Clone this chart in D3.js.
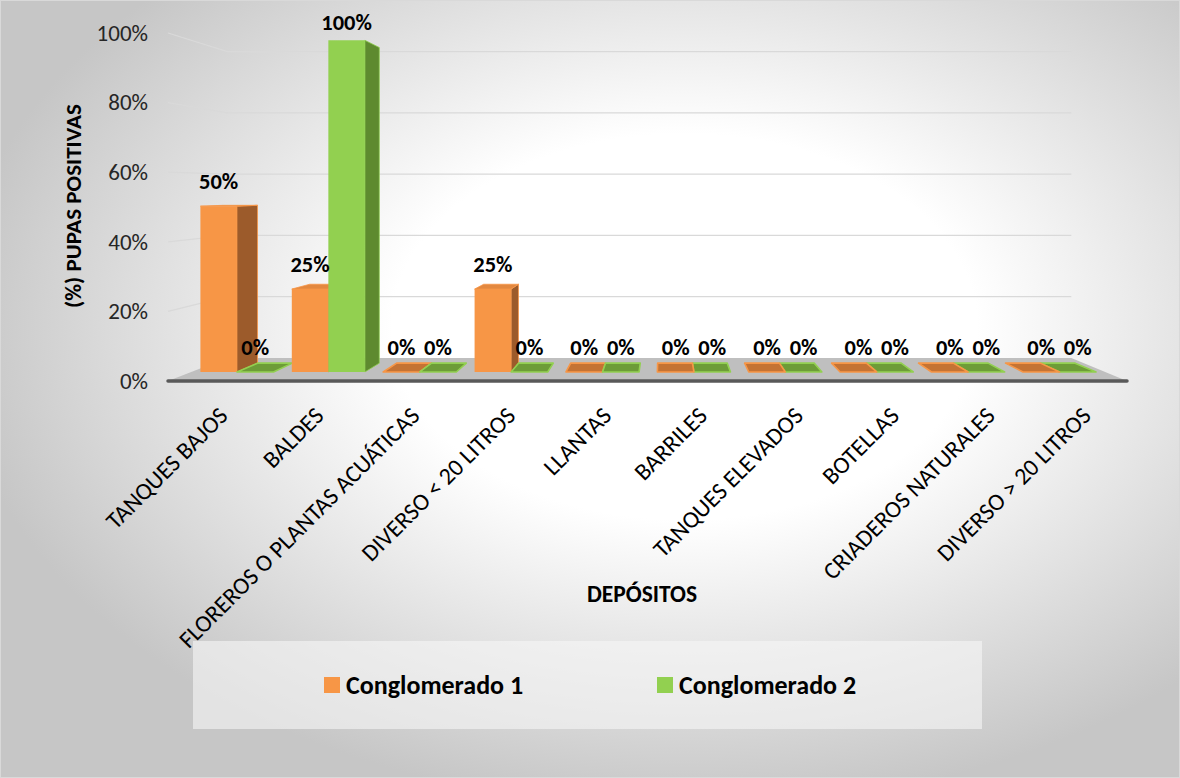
<!DOCTYPE html>
<html>
<head>
<meta charset="utf-8">
<script src="https://cdn.jsdelivr.net/npm/d3@7"></script>
<style>
  html, body { margin: 0; padding: 0; background: #ffffff; }
  svg { display: block; font-family: Calibri, Carlito, Lato, sans-serif; }
</style>
</head>
<body>
<script>
// Categories, series and tick values
const categories = [
  "TANQUES BAJOS", "BALDES", "FLOREROS O PLANTAS ACUÁTICAS", "DIVERSO < 20 LITROS",
  "LLANTAS", "BARRILES", "TANQUES ELEVADOS", "BOTELLAS", "CRIADEROS NATURALES", "DIVERSO > 20 LITROS"
];
const seriesNames = ["Conglomerado 1", "Conglomerado 2"];
const conglomerado1 = [0.50, 0.25, 0, 0.25, 0, 0, 0, 0, 0, 0];
const conglomerado2 = [0, 1.00, 0, 0, 0, 0, 0, 0, 0, 0];
const yTicks = [0, 0.2, 0.4, 0.6, 0.8, 1.0];
const yTitle = "(%) PUPAS POSITIVAS";
const xTitle = "DEPÓSITOS";

const W = 1180, H = 778;

// Colours per series: front, side, top, flat tile fill
const palette = {
  "Conglomerado 1": { front: "#f79646", side: "#9c5b2b", top: "#e3883f", tile: "#c47334" },
  "Conglomerado 2": { front: "#92d050", side: "#5e8a2f", top: "#83bd47", tile: "#6d9c38" }
};

const svg = d3.select("body").append("svg").attr("width", W).attr("height", H);

// Background: radial grey-to-white fill
const defs = svg.append("defs");
const grad = defs.append("radialGradient").attr("id", "bg")
  .attr("cx", 0.58).attr("cy", 0.42).attr("r", 0.62);
grad.append("stop").attr("offset", 0).attr("stop-color", "#ffffff");
grad.append("stop").attr("offset", 0.4).attr("stop-color", "#ffffff");
grad.append("stop").attr("offset", 1).attr("stop-color", "#c6c6c6");
svg.append("rect").attr("x", 0).attr("y", 0).attr("width", W).attr("height", H)
  .attr("fill", "url(#bg)");
svg.append("rect").attr("x", 0.5).attr("y", 0.5).attr("width", W - 1).attr("height", H - 1)
  .attr("fill", "none").attr("stroke", "#d9d9d9").attr("stroke-width", 1);

// Scales (front plane of the 3-D box)
const x = d3.scaleBand().domain(categories).range([168, 1127])
  .paddingInner(0.2).paddingOuter(0.1);
const xs = d3.scaleBand().domain(seriesNames).range([0, x.bandwidth()]);
const y = d3.scaleLinear().domain([0, 1]).range([381, 33]);

// Simple perspective: s = 0 front plane, s = S_BACK back wall
const VX = 663, VY = 189, S_BACK = 0.12, S0 = 0.047, S1 = 0.093;
const proj = (wx, wy, s) => [wx + s * (VX - wx), wy + s * (VY - wy)];
const poly = pts => pts.map(p => p.join(",")).join(" ");

const [xL, xR] = x.range();

// Gridlines on left wall and back wall
const grid = svg.append("g");
yTicks.filter(t => t > 0).forEach(t => {
  const wy = y(t);
  const a = proj(xL, wy, 0), b = proj(xL, wy, S_BACK), c = proj(xR, wy, S_BACK);
  grid.append("polyline").attr("points", poly([a, b, c]))
    .attr("fill", "none").attr("stroke", "#d9d9d9").attr("stroke-width", 1.3);
});

// Floor
const y0 = y(0);
svg.append("polygon")
  .attr("points", poly([proj(xL, y0, 0), proj(xL, y0, S_BACK), proj(xR, y0, S_BACK), proj(xR, y0, 0)]))
  .attr("fill", "#bfbfbf");
svg.append("line").attr("x1", xL).attr("x2", xR).attr("y1", y0).attr("y2", y0)
  .attr("stroke", "#595959").attr("stroke-width", 3.5).attr("stroke-linecap", "round");

// Bars
const bars = [];
categories.forEach((c, i) => {
  [conglomerado1[i], conglomerado2[i]].forEach((v, j) => {
    const s = seriesNames[j];
    const x0 = x(c) + xs(s), x1 = x0 + xs.bandwidth();
    bars.push({ cat: c, series: s, value: v, x0, x1 });
  });
});
// paint farthest from the vanishing column first
const order = bars.slice().sort((a, b) =>
  Math.abs((b.x0 + b.x1) / 2 - VX) - Math.abs((a.x0 + a.x1) / 2 - VX));

const gBars = svg.append("g");
order.forEach(d => {
  const col = palette[d.series];
  const yt = y(d.value), yb = y(0);
  const g = gBars.append("g");
  if (d.value === 0) {
    g.append("polygon")
      .attr("points", poly([proj(d.x0, yb, S0), proj(d.x1, yb, S0), proj(d.x1, yb, S1), proj(d.x0, yb, S1)]))
      .attr("fill", col.tile).attr("stroke", col.front).attr("stroke-width", 1.6)
      .attr("stroke-linejoin", "round");
    return;
  }
  // side face
  const sx = d.x1 < VX ? d.x1 : (d.x0 > VX ? d.x0 : null);
  if (sx !== null) {
    g.append("polygon")
      .attr("points", poly([proj(sx, yt, S0), proj(sx, yt, S1), proj(sx, yb, S1), proj(sx, yb, S0)]))
      .attr("fill", col.side).attr("stroke", col.front).attr("stroke-width", 0.8);
  }
  // top face when seen from above
  if (yt > VY) {
    g.append("polygon")
      .attr("points", poly([proj(d.x0, yt, S0), proj(d.x1, yt, S0), proj(d.x1, yt, S1), proj(d.x0, yt, S1)]))
      .attr("fill", col.top).attr("stroke", col.front).attr("stroke-width", 0.8);
  }
  // front face
  g.append("polygon")
    .attr("points", poly([proj(d.x0, yt, S0), proj(d.x1, yt, S0), proj(d.x1, yb, S0), proj(d.x0, yb, S0)]))
    .attr("fill", col.front);
});

// Data labels
const fmt = d3.format(".0%");
svg.append("g").selectAll("text").data(bars).join("text")
  .attr("x", d => proj((d.x0 + d.x1) / 2, y(d.value), S0)[0])
  .attr("y", d => Math.max(proj(0, y(d.value), S0)[1] - 17, 30))
  .attr("text-anchor", "middle")
  .attr("font-weight", "bold").attr("font-size", 22.5).attr("fill", "#000")
  .text(d => fmt(d.value));

// Y axis tick labels
const yAxis = svg.append("g").attr("transform", "translate(148,0)")
  .call(d3.axisLeft(y).tickValues(yTicks).tickFormat(fmt).tickSize(0).tickPadding(0));
yAxis.select(".domain").remove();
yAxis.selectAll("text").attr("font-size", 23).attr("fill", "#262626")
  .attr("font-family", "Calibri, Carlito, Lato, sans-serif");

// X axis category labels, rotated
const xAxis = svg.append("g").attr("transform", "translate(0,405)")
  .call(d3.axisBottom(x).tickSize(0).tickPadding(0));
xAxis.select(".domain").remove();
xAxis.selectAll("text")
  .attr("x", 0).attr("y", 0).attr("dy", "0.72em")
  .attr("transform", "translate(1,0) rotate(-45)")
  .attr("text-anchor", "end")
  .attr("font-size", 24).attr("fill", "#000")
  .attr("font-family", "Calibri, Carlito, Lato, sans-serif");

// Axis titles
svg.append("text").attr("transform", "translate(81,206) rotate(-90)")
  .attr("text-anchor", "middle").attr("font-weight", "bold").attr("font-size", 23)
  .text(yTitle);
svg.append("text").attr("x", 642).attr("y", 602)
  .attr("text-anchor", "middle").attr("font-weight", "bold").attr("font-size", 23.5)
  .text(xTitle);

// Legend
svg.append("rect").attr("x", 193).attr("y", 641).attr("width", 789).attr("height", 88)
  .attr("fill", "#f6f6f6").attr("opacity", 0.6);
const legendX = [324, 657];
const lg = svg.append("g").selectAll("g").data(seriesNames).join("g")
  .attr("transform", (d, i) => `translate(${legendX[i]},677)`);
lg.append("rect").attr("width", 16).attr("height", 16).attr("fill", d => palette[d].front);
lg.append("text").attr("x", 22).attr("y", 8).attr("dy", "0.36em")
  .attr("font-weight", "bold").attr("font-size", 26).text(d => d);
</script>
</body>
</html>
